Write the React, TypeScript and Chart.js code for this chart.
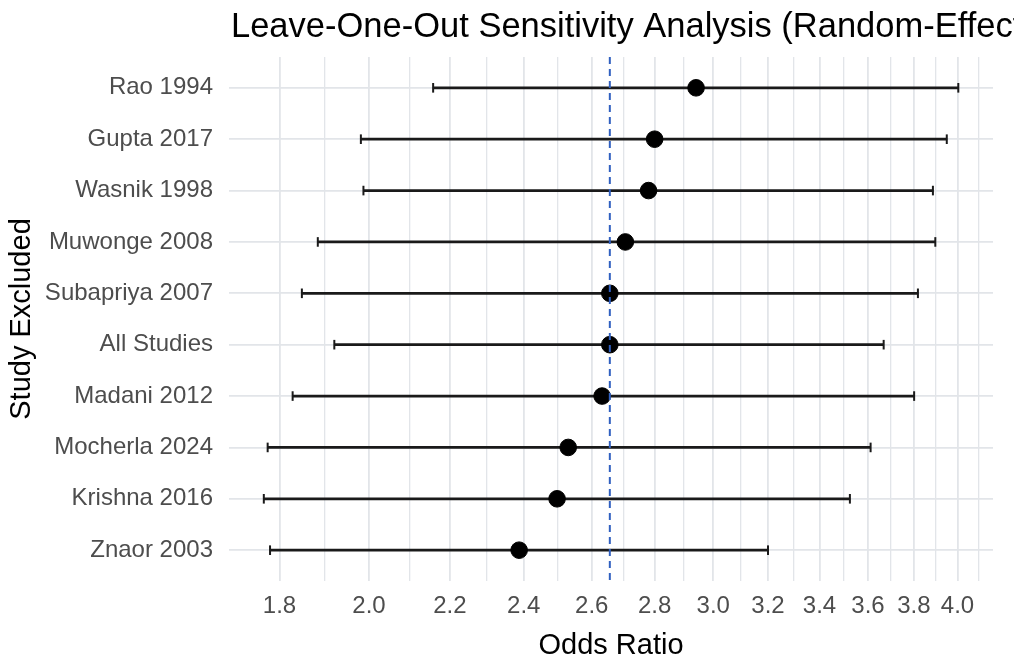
import React, { useEffect, useRef } from "react";
import { Chart, registerables } from "chart.js";

Chart.register(...registerables);

// ---- data ----
const STUDIES = [
  "Rao 1994",
  "Gupta 2017",
  "Wasnik 1998",
  "Muwonge 2008",
  "Subapriya 2007",
  "All Studies",
  "Madani 2012",
  "Mocherla 2024",
  "Krishna 2016",
  "Znaor 2003",
];
const ODDS_RATIO = [2.94, 2.8, 2.78, 2.705, 2.656, 2.656, 2.632, 2.529, 2.496, 2.387];
const CI_LOWER = [2.157, 1.981, 1.987, 1.883, 1.848, 1.92, 1.828, 1.775, 1.767, 1.78];
const CI_UPPER = [4.004, 3.95, 3.886, 3.897, 3.818, 3.667, 3.801, 3.611, 3.524, 3.2];
const POOLED_OR = 2.656;
const X_TICKS = [1.8, 2.0, 2.2, 2.4, 2.6, 2.8, 3.0, 3.2, 3.4, 3.6, 3.8, 4.0];
const X_MIN = 1.696;
const X_MAX = 4.171;
const Y_MIN = -0.6;
const Y_MAX = STUDIES.length - 1 + 0.6;

const TITLE = "Leave-One-Out Sensitivity Analysis (Random-Effects)";
const X_TITLE = "Odds Ratio";
const Y_TITLE = "Study Excluded";

const FONT = '"Liberation Sans", Arial, Helvetica, sans-serif';
const GRID = "#e2e5e9";
const INK = "#1a1a1a";

// minor gridlines sit midway (in log space) between the major breaks
const MINOR_TICKS: number[] = [];
for (let i = 0; i < X_TICKS.length - 1; i++) {
  MINOR_TICKS.push(Math.sqrt(X_TICKS[i] * X_TICKS[i + 1]));
}
MINOR_TICKS.push(Math.sqrt(X_TICKS[X_TICKS.length - 1] * (X_TICKS[X_TICKS.length - 1] + 0.2)));

const titlePlugin = {
  id: "leftTitle",
  afterDraw(chart: any) {
    const { ctx, chartArea } = chart;
    ctx.save();
    ctx.font = `34.5px ${FONT}`;
    ctx.fillStyle = "#000000";
    ctx.textAlign = "left";
    ctx.textBaseline = "middle";
    ctx.fillText(TITLE, chartArea.left + 2, 27);
    ctx.restore();
  },
};

export default function App() {
  const ref = useRef<HTMLCanvasElement>(null);

  useEffect(() => {
    if (!ref.current) return;
    const chart = new Chart(ref.current, {
      type: "bar",
      data: {
        datasets: [
          {
            type: "line",
            data: [
              { x: POOLED_OR, y: Y_MIN },
              { x: POOLED_OR, y: Y_MAX },
            ],
            borderColor: "#3060c0",
            borderWidth: 2,
            borderDash: [7, 5],
            pointRadius: 0,
            order: 0,
          } as any,
          {
            type: "scatter",
            data: STUDIES.map((_, i) => ({ x: ODDS_RATIO[i], y: i })),
            backgroundColor: "#000000",
            borderColor: "#000000",
            pointRadius: 8.3,
            pointHoverRadius: 8.3,
            order: 1,
          } as any,
          {
            type: "scatter",
            data: [
              ...STUDIES.map((_, i) => ({ x: CI_LOWER[i], y: i })),
              ...STUDIES.map((_, i) => ({ x: CI_UPPER[i], y: i })),
            ],
            pointStyle: "line",
            rotation: 90,
            pointRadius: 4.8,
            pointHoverRadius: 4.8,
            borderColor: INK,
            borderWidth: 2,
            order: 2,
          } as any,
          {
            type: "bar",
            indexAxis: "y",
            data: STUDIES.map((_, i) => ({ y: i, x: [CI_LOWER[i], CI_UPPER[i]] })),
            backgroundColor: INK,
            borderWidth: 0,
            barThickness: 2,
            order: 3,
          } as any,
        ],
      },
      options: {
        animation: false,
        responsive: false,
        layout: { padding: { top: 57, right: 21, bottom: 0, left: 0 } },
        plugins: {
          legend: { display: false },
          tooltip: { enabled: false },
          title: { display: false },
        },
        scales: {
          x: {
            type: "logarithmic",
            position: "bottom",
            min: X_MIN,
            max: X_MAX,
            bounds: "data",
            offset: false,
            afterBuildTicks: (scale: any) => {
              const t = [
                ...X_TICKS.map((v) => ({ value: v, minor: false })),
                ...MINOR_TICKS.map((v) => ({ value: v, minor: true })),
              ];
              t.sort((a, b) => a.value - b.value);
              scale.ticks = t;
            },
            afterFit: (scale: any) => {
              scale.height = 82;
            },
            border: { display: false },
            grid: {
              color: GRID,
              offset: false,
              drawTicks: false,
              lineWidth: (ctx: any) => (ctx.tick && ctx.tick.minor ? 1.3 : 1.8),
            },
            ticks: {
              autoSkip: false,
              maxRotation: 0,
              minRotation: 0,
              padding: 11,
              color: "#4d4d4d",
              font: { family: FONT, size: 24 },
              callback: (value: any, index: number, ticks: any[]) =>
                ticks[index] && ticks[index].minor ? "" : Number(value).toFixed(1),
            },
            title: {
              display: true,
              text: X_TITLE,
              color: "#000000",
              font: { family: FONT, size: 29 },
              padding: { top: 0, bottom: 0 },
            },
          },
          y: {
            type: "linear",
            position: "left",
            reverse: true,
            min: Y_MIN,
            max: Y_MAX,
            bounds: "data",
            offset: false,
            beginAtZero: false,
            afterBuildTicks: (scale: any) => {
              scale.ticks = STUDIES.map((_, i) => ({ value: i }));
            },
            afterFit: (scale: any) => {
              scale.width = 229;
            },
            border: { display: false },
            grid: { color: GRID, offset: false, lineWidth: 1.8, drawTicks: false },
            ticks: {
              autoSkip: false,
              padding: 16,
              color: "#4d4d4d",
              font: { family: FONT, size: 24 },
              callback: (value: any) => STUDIES[Math.round(Number(value))] ?? "",
            },
            title: {
              display: true,
              text: Y_TITLE,
              color: "#000000",
              font: { family: FONT, size: 29 },
              padding: { top: 5, bottom: 0 },
            },
          },
        },
      } as any,
      plugins: [titlePlugin],
    });
    return () => chart.destroy();
  }, []);

  return (
    <div style={{ position: "fixed", left: 0, top: 0, width: 1014, height: 663, background: "#ffffff" }}>
      <canvas ref={ref} width={1014} height={663} style={{ display: "block" }} />
    </div>
  );
}
